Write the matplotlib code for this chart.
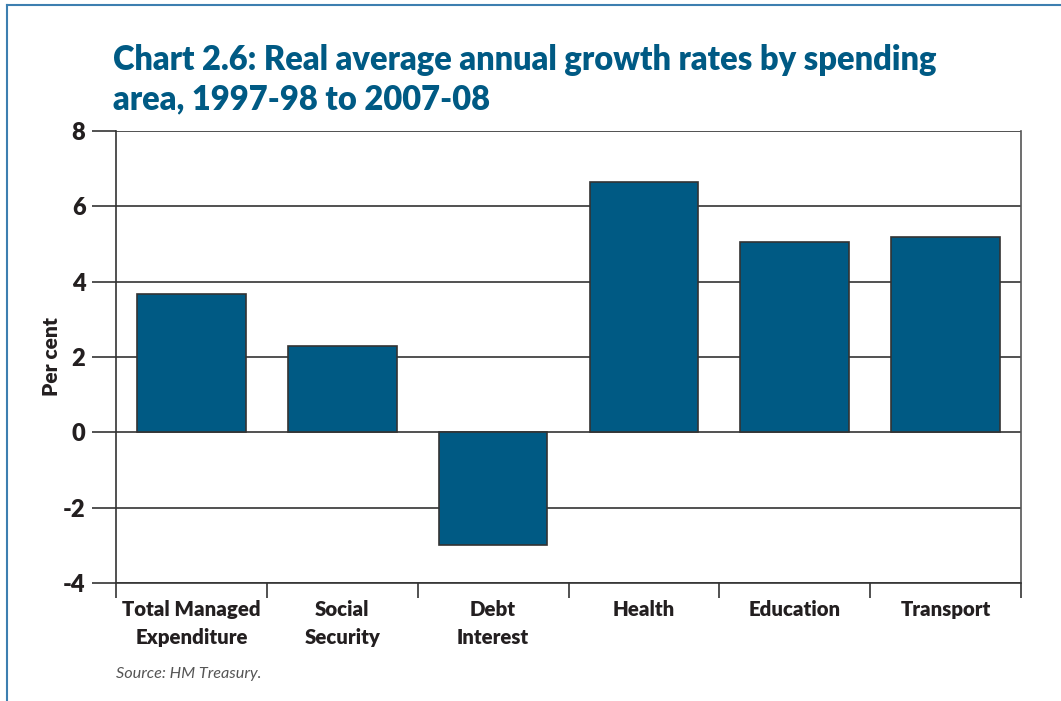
import matplotlib
matplotlib.use("Agg")
import matplotlib.pyplot as plt
from matplotlib.lines import Line2D
import numpy as np

# Spending areas and their real average annual growth (per cent)
categories = ["Total Managed\nExpenditure", "Social\nSecurity", "Debt\nInterest",
              "Health", "Education", "Transport"]
growth = [3.66, 2.29, -2.98, 6.65, 5.05, 5.18]
yticks = [-4, -2, 0, 2, 4, 6, 8]

BLUE = "#005a84"
INK = "#231f20"

plt.rcParams["font.family"] = ["Lato", "DejaVu Sans"]

fig = plt.figure(figsize=(10.61, 7.01), dpi=100)
ax = fig.add_axes([116 / 1061, 1 - 583 / 701, (1021 - 116) / 1061, (583 - 131) / 701])

x = np.arange(len(categories))
ax.bar(x, growth, width=0.72, color=BLUE, edgecolor="#333333", linewidth=1.2, zorder=3)

ax.set_xlim(-0.5, len(categories) - 0.5)
ax.set_ylim(-4, 8)

# Category labels at bar centres, separator ticks at the boundaries
ax.set_xticks(x)
ax.set_xticklabels(categories, fontsize=14.7, fontweight="heavy", color=INK, linespacing=1.6)
ax.tick_params(axis="x", which="major", length=0, pad=12)
ax.set_xticks(np.arange(len(categories) + 1) - 0.5, minor=True)
ax.tick_params(axis="x", which="minor", length=11, width=1.2, color="#333333", direction="out")

ax.set_yticks(yticks)
ax.set_yticklabels([str(v) for v in yticks], fontsize=17, fontweight="heavy", color=INK)
ax.tick_params(axis="y", length=17, width=1.2, color="#333333", pad=5)

ax.yaxis.grid(True, color="#222222", linewidth=1.1, zorder=1)
ax.set_axisbelow(True)

for side in ["left", "bottom"]:
    ax.spines[side].set_color("#333333")
    ax.spines[side].set_linewidth(1.2)
ax.spines["right"].set_color("#555555")
ax.spines["right"].set_linewidth(1.2)
ax.spines["top"].set_visible(False)

ax.set_ylabel("Per cent", fontsize=15, fontweight="heavy", color=INK, labelpad=1)

fig.text(113 / 1061, 1 - 70 / 701, "Chart 2.6: Real average annual growth rates by spending",
         fontsize=23.5, fontweight="heavy", color=BLUE, ha="left", va="baseline")
fig.text(113 / 1061, 1 - 109 / 701, "area, 1997-98 to 2007-08",
         fontsize=23.5, fontweight="heavy", color=BLUE, ha="left", va="baseline")

fig.text(116 / 1061, 1 - 678 / 701, "Source: HM Treasury.", fontsize=11.7, style="italic",
         color="#555555", ha="left", va="baseline")

# Page frame along the top and left edges
fig.add_artist(Line2D([7 / 1061, 7 / 1061], [0, 1 - 5 / 701], transform=fig.transFigure,
                      color="#3d7fb0", linewidth=1.5))
fig.add_artist(Line2D([7 / 1061, 1], [1 - 5 / 701, 1 - 5 / 701], transform=fig.transFigure,
                      color="#3d7fb0", linewidth=1.5))

fig.savefig("out.png", dpi=100)
